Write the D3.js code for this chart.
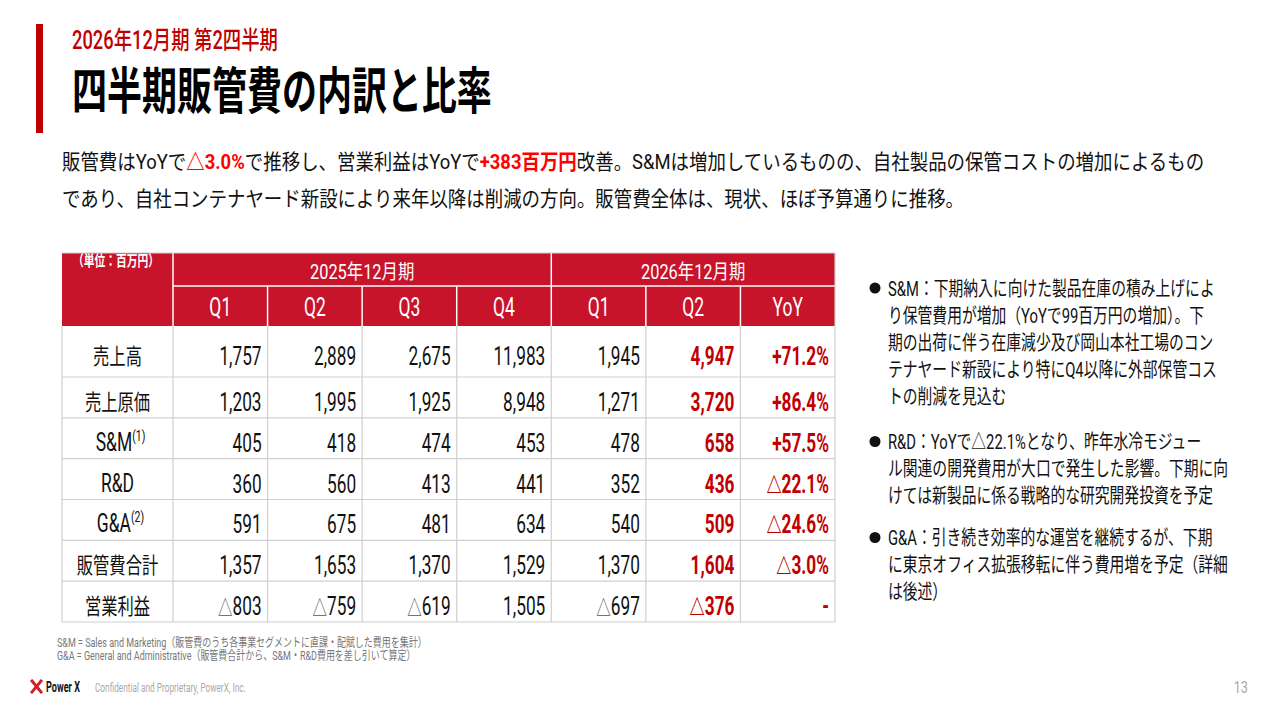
<!DOCTYPE html>
<html><head><meta charset="utf-8">
<script src="https://cdn.jsdelivr.net/npm/d3@7"></script>
<style>body{margin:0;background:#fff}svg{display:block}</style>
</head><body>
<svg id="c" width="1280" height="720"></svg>
<script>
// ---------- data ----------
const subtitle = "2026年12月期 第2四半期";
const title = "四半期販管費の内訳と比率";
const summary1 = [["販管費はYoYで",0],["△3.0%",1],["で推移し、営業利益はYoYで",0],["+383百万円",1],["改善。S&Mは増加しているものの、自社製品の保管コストの増加によるもの",0]];
const summary2 = [["であり、自社コンテナヤード新設により来年以降は削減の方向。販管費全体は、現状、ほぼ予算通りに推移。",0]];
const unitLabel = "（単位：百万円）";
const years = ["2025年12月期", "2026年12月期"];
const yearSpans = [4, 3];
const colLabels = ["Q1","Q2","Q3","Q4","Q1","Q2","YoY"];
const rowLabels = ["売上高","売上原価","S&M","R&D","G&A","販管費合計","営業利益"];
const rowNotes  = ["","","(1)","","(2)","",""];
const q1_2025 = [1757,1203,405,360,591,1357,-803];
const q2_2025 = [2889,1995,418,560,675,1653,-759];
const q3_2025 = [2675,1925,474,413,481,1370,-619];
const q4_2025 = [11983,8948,453,441,634,1529,1505];
const q1_2026 = [1945,1271,478,352,540,1370,-697];
const q2_2026 = [4947,3720,658,436,509,1604,-376];
const yoy     = [71.2,86.4,57.5,-22.1,-24.6,-3.0,null];
const bullets = [
  ["S&M：下期納入に向けた製品在庫の積み上げによ","り保管費用が増加（YoYで99百万円の増加）。下","期の出荷に伴う在庫減少及び岡山本社工場のコン","テナヤード新設により特にQ4以降に外部保管コス","トの削減を見込む"],
  ["R&D：YoYで△22.1%となり、昨年水冷モジュー","ル関連の開発費用が大口で発生した影響。下期に向","けては新製品に係る戦略的な研究開発投資を予定"],
  ["G&A：引き続き効率的な運営を継続するが、下期","に東京オフィス拡張移転に伴う費用増を予定（詳細","は後述）"]
];
const footnotes = ["S&M = Sales and Marketing（販管費のうち各事業セグメントに直課・配賦した費用を集計）",
                   "G&A = General and Administrative（販管費合計から、S&M・R&D費用を差し引いて算定）"];
const brand = "Power X";
const confidential = "Confidential and Proprietary, PowerX, Inc.";
const pageNo = "13";

// ---------- helpers ----------
const FONT = "Roboto, 'Noto Sans CJK JP', sans-serif";
const svg = d3.select("#c");
const RED = "#c00000", HEAD = "#c8142a";

function stext(parent, x, y, parts, o) {
  const g = parent.append("g").attr("transform", `translate(${x},${y})`);
  const t = g.append("text")
    .attr("font-family", FONT).attr("font-size", o.size)
    .attr("font-weight", o.weight || 400).attr("fill", o.fill || "#111")
    .attr("text-anchor", o.anchor || "start");
  (typeof parts === "string" ? [[parts, null]] : parts).forEach(p => {
    const ts = t.append("tspan").text(p[0]);
    if (p[1] && typeof p[1] === "object") Object.entries(p[1]).forEach(([k, v]) => ts.attr(k, v));
  });
  let sx = o.sx || 1;
  if (o.fit) sx = o.fit / t.node().getComputedTextLength();
  t.attr("transform", `scale(${sx},1)`);
  return sx;
}

// ---------- header ----------
svg.append("rect").attr("x", 36).attr("y", 24).attr("width", 7).attr("height", 109).attr("fill", RED);
stext(svg, 72, 49, subtitle, {size: 25, weight: 500, fill: RED, fit: 206});
stext(svg, 72, 109, title, {size: 50, weight: 700, fill: "#000", fit: 420});

const hl = {fill: "#ff0000", "font-weight": 700};
const sumSx = stext(svg, 62, 169, summary1.map(d => [d[0], d[1] ? hl : null]), {size: 21, fill: "#111", fit: 1143});
stext(svg, 62, 206, summary2.map(d => [d[0], null]), {size: 21, fill: "#111", sx: sumSx});

// ---------- table ----------
const tL = 62, tR = 835, labR = 173;
const hTop = 253, hMid = 286, hBot = 326, tBot = 622;
const cols = [q1_2025, q2_2025, q3_2025, q4_2025, q1_2026, q2_2026, yoy];
const x = d3.scaleBand().domain(d3.range(colLabels.length)).range([labR, tR]);
const yRest = d3.scaleBand().domain(d3.range(1, rowLabels.length)).range([377, tBot]);
const rowTop = i => i === 0 ? hBot : yRest(i);
const rowH = i => i === 0 ? 377 - hBot : yRest.bandwidth();

const tb = svg.append("g");
tb.append("rect").attr("x", tL).attr("y", hTop).attr("width", tR - tL).attr("height", hBot - hTop).attr("fill", HEAD);
const wl = (x1, y1, x2, y2) => tb.append("line").attr("x1", x1).attr("y1", y1).attr("x2", x2).attr("y2", y2)
  .attr("stroke", "#fff").attr("stroke-width", 1.5);
wl(labR, hTop, labR, hBot);
wl(labR, hMid, tR, hMid);
let acc = 0;
yearSpans.forEach((s, i) => {
  const x0 = x(acc), x1 = x(acc + s - 1) + x.bandwidth();
  stext(tb, (x0 + x1) / 2, 279, years[i], {size: 20, fill: "#fff", anchor: "middle", sx: 0.82});
  if (i > 0) wl(x0, hTop, x0, hMid);
  acc += s;
});
colLabels.forEach((c, j) => {
  if (j > 0) wl(x(j), hMid, x(j), hBot);
  stext(tb, x(j) + x.bandwidth() / 2, 316, c, {size: 25, fill: "#fff", anchor: "middle", sx: 0.7});
});
stext(tb, 73, 266, unitLabel, {size: 15, weight: 700, fill: "#fff", fit: 86});

const gl = (x1, y1, x2, y2) => tb.append("line").attr("x1", x1).attr("y1", y1).attr("x2", x2).attr("y2", y2)
  .attr("stroke", "#cfcfcf").attr("stroke-width", 1.2);
rowLabels.forEach((r, i) => gl(tL, rowTop(i) + rowH(i), tR, rowTop(i) + rowH(i)));
gl(tL, hTop, tR, hTop);
gl(tL, hBot, tL, tBot);
gl(labR, hBot, labR, tBot);
colLabels.forEach((c, j) => gl(x(j) + x.bandwidth(), hBot, x(j) + x.bandwidth(), tBot));
gl(tR, hTop, tR, hBot);

const fmtN = d3.format(",");
const fmtP = d3.format(".1f");
const fmtVal = (v, j) => {
  if (v === null) return "-";
  if (j === 6) return (v < 0 ? "△" + fmtP(-v) : "+" + fmtP(v)) + "%";
  return v < 0 ? "△" + fmtN(-v) : fmtN(v);
};

rowLabels.forEach((r, i) => {
  const base = rowTop(i) + rowH(i) / 2 + 13.5;
  const latin = /^[A-Za-z&]+$/.test(r);
  const parts = [[r, null]];
  if (rowNotes[i]) parts.push([rowNotes[i], {"font-size": 15, dy: -10}]);
  stext(tb, (tL + labR) / 2 + (rowNotes[i] ? 3 : 0), base - 1, parts,
    {size: latin ? 25 : 22, fill: "#111", anchor: "middle", sx: latin ? 0.7 : 0.74});
  cols.forEach((col, j) => {
    const hot = j >= 5;
    const s = fmtVal(col[i], j);
    let parts2;
    if (s.startsWith("△")) parts2 = [["△", hot ? {"font-size": 22, "font-weight": 900, "font-family": "'Noto Sans CJK JP'"} : {fill: "#555", "font-size": 21}], [s.slice(1), null]];
    else parts2 = [[s, null]];
    stext(tb, x(j) + x.bandwidth() - 6, base, parts2,
      {size: 25, weight: hot ? 700 : 400, fill: hot ? RED : "#111", anchor: "end", sx: 0.69});
  });
});

// ---------- bullets ----------
const bStarts = [295.5, 449, 545];
let bSx = null;
bullets.forEach((lines, b) => {
  svg.append("circle").attr("cx", 875).attr("cy", bStarts[b] - 7.5).attr("r", 5.5).attr("fill", "#111");
  lines.forEach((ln, k) => {
    const o = {size: 20, fill: "#111"};
    if (bSx === null) o.fit = 327; else o.sx = bSx;
    const s = stext(svg, 888, bStarts[b] + k * 27.2, ln, o);
    if (bSx === null) bSx = s;
  });
});

// ---------- footnotes ----------
const fSx = stext(svg, 57, 647, footnotes[0], {size: 12.5, fill: "#777", fit: 370});
stext(svg, 57, 660, footnotes[1], {size: 12.5, fill: "#777", sx: fSx});

// ---------- footer ----------
const logo = svg.append("g").attr("stroke", "#d0202a").attr("stroke-width", 3).attr("stroke-linecap", "square");
logo.append("line").attr("x1", 32).attr("y1", 681).attr("x2", 41).attr("y2", 692);
logo.append("line").attr("x1", 41).attr("y1", 681).attr("x2", 32).attr("y2", 692);
stext(svg, 46, 692, brand, {size: 15, weight: 700, fill: "#111", fit: 34});
stext(svg, 95, 692, confidential, {size: 13, fill: "#aaa", fit: 151});
stext(svg, 1248, 693, pageNo, {size: 17, fill: "#aaa", anchor: "end", sx: 0.75});
</script>
</body></html>
